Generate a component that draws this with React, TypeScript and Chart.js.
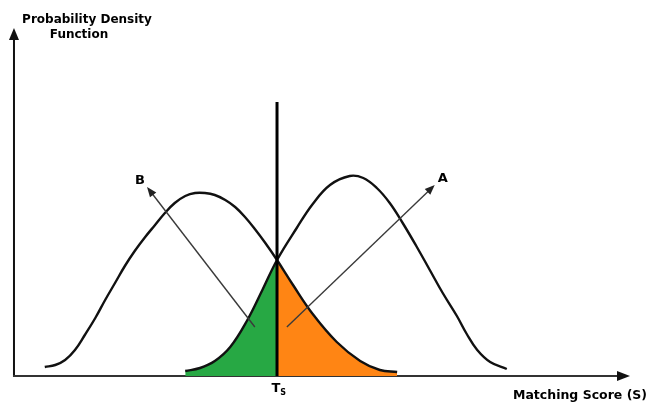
import React, { useEffect, useRef } from "react";
import { Chart, registerables } from "chart.js";

Chart.register(...registerables);

// Distribution B (left curve): matching score vs. probability density
const curveBScore = [5.0, 6.7, 8.3, 9.9, 11.5, 13.2, 14.8, 16.4, 18.0, 19.6, 21.3, 22.9, 24.5, 26.1, 27.8, 29.4, 31.0, 32.6, 34.3, 35.9, 37.5, 39.1, 40.8, 42.7, 45.3, 48.5, 52.4, 56.2, 59.4, 62.2];
const curveBDensity = [0.045, 0.055, 0.08, 0.13, 0.205, 0.29, 0.38, 0.465, 0.55, 0.625, 0.695, 0.755, 0.815, 0.865, 0.9, 0.915, 0.915, 0.905, 0.88, 0.845, 0.795, 0.735, 0.665, 0.58, 0.455, 0.31, 0.17, 0.075, 0.03, 0.02];

// Distribution A (right curve)
const curveAScore = [27.8, 30.2, 32.6, 35.1, 37.8, 40.4, 42.7, 45.9, 48.5, 51.3, 54.5, 56.7, 58.9, 61.0, 63.1, 65.4, 67.5, 69.6, 71.9, 73.5, 75.2, 77.3, 80.0];
const curveADensity = [0.025, 0.04, 0.075, 0.145, 0.275, 0.435, 0.58, 0.74, 0.86, 0.955, 1.0, 0.99, 0.94, 0.865, 0.765, 0.645, 0.53, 0.415, 0.3, 0.21, 0.13, 0.07, 0.035];

// Decision threshold T_s and the height of its marker line
const thresholdScore = 42.7;
const thresholdTop = 1.37;

// Axis extents (arrow tips)
const scoreAxisEnd = 100;
const densityAxisTop = 1.74;

// Pointer arrows: [fromScore, fromDensity, toScore, toDensity]
const arrowB = [39.1, 0.245, 21.6, 0.945];
const arrowA = [44.3, 0.245, 68.3, 0.955];

const toPoints = (xs: number[], ys: number[]) => xs.map((x, i) => ({ x, y: ys[i] }));

const curveB = toPoints(curveBScore, curveBDensity);
const curveA = toPoints(curveAScore, curveADensity);
const greenRegion = curveA.filter((p) => p.x <= thresholdScore);
const orangeRegion = curveB.filter((p) => p.x >= thresholdScore);

const FONT_FAMILY = "'DejaVu Sans', 'Liberation Sans', Arial, sans-serif";
const CURVE_TENSION = 0.4;

function arrowHead(ctx: CanvasRenderingContext2D, x1: number, y1: number, x2: number, y2: number, len: number, half: number) {
  const ang = Math.atan2(y2 - y1, x2 - x1);
  ctx.beginPath();
  ctx.moveTo(x2, y2);
  ctx.lineTo(x2 - len * Math.cos(ang) + half * Math.sin(ang), y2 - len * Math.sin(ang) - half * Math.cos(ang));
  ctx.lineTo(x2 - len * Math.cos(ang) - half * Math.sin(ang), y2 - len * Math.sin(ang) + half * Math.cos(ang));
  ctx.closePath();
  ctx.fill();
}

const diagramDecor = {
  id: "diagramDecor",
  beforeDatasetsDraw(chart: any) {
    const { ctx, scales } = chart;
    const x = scales.x;
    const y = scales.y;
    const ox = x.getPixelForValue(0);
    const oy = y.getPixelForValue(0);
    ctx.save();
    // density axis
    ctx.strokeStyle = "#111";
    ctx.fillStyle = "#111";
    ctx.lineWidth = 2;
    const yTop = y.getPixelForValue(densityAxisTop);
    ctx.beginPath();
    ctx.moveTo(ox, oy + 1);
    ctx.lineTo(ox, yTop + 8);
    ctx.stroke();
    arrowHead(ctx, ox, oy, ox, yTop, 12, 5);
    // score axis
    ctx.strokeStyle = "#333";
    ctx.fillStyle = "#111";
    const xEnd = x.getPixelForValue(scoreAxisEnd);
    ctx.beginPath();
    ctx.moveTo(ox - 1, oy);
    ctx.lineTo(xEnd - 8, oy);
    ctx.stroke();
    arrowHead(ctx, ox, oy, xEnd, oy, 13, 5);
    ctx.restore();
  },
  afterDatasetsDraw(chart: any) {
    const { ctx, scales } = chart;
    const x = scales.x;
    const y = scales.y;
    ctx.save();
    ctx.strokeStyle = "#3a3a3a";
    ctx.fillStyle = "#222";
    ctx.lineWidth = 1.4;
    const tips: number[][] = [];
    for (const a of [arrowB, arrowA]) {
      const x1 = x.getPixelForValue(a[0]);
      const y1 = y.getPixelForValue(a[1]);
      const x2 = x.getPixelForValue(a[2]);
      const y2 = y.getPixelForValue(a[3]);
      const ang = Math.atan2(y2 - y1, x2 - x1);
      ctx.beginPath();
      ctx.moveTo(x1, y1);
      ctx.lineTo(x2 - 6 * Math.cos(ang), y2 - 6 * Math.sin(ang));
      ctx.stroke();
      arrowHead(ctx, x1, y1, x2, y2, 10, 4);
      tips.push([x2, y2]);
    }
    // arrow labels
    ctx.fillStyle = "#000";
    ctx.font = `bold 13px ${FONT_FAMILY}`;
    ctx.textAlign = "center";
    ctx.textBaseline = "middle";
    ctx.fillText("B", tips[0][0] - 7, tips[0][1] - 6);
    ctx.fillText("A", tips[1][0] + 8, tips[1][1] - 6);

    // axis titles
    ctx.font = `bold 12px ${FONT_FAMILY}`;
    ctx.fillText("Probability Density", 87, 20);
    ctx.fillText("Function", 79, 35);
    ctx.textAlign = "left";
    ctx.font = `bold 12.5px ${FONT_FAMILY}`;
    ctx.fillText("Matching Score (S)", 513, 396);

    // threshold label T_s
    const tx = x.getPixelForValue(thresholdScore);
    ctx.font = `bold 13px ${FONT_FAMILY}`;
    ctx.textAlign = "center";
    ctx.fillText("T", tx - 1, 389);
    ctx.font = `bold 8px ${FONT_FAMILY}`;
    ctx.fillText("S", tx + 6, 393);
    ctx.restore();
  },
};

export default function App() {
  const canvasRef = useRef<HTMLCanvasElement | null>(null);

  useEffect(() => {
    const canvas = canvasRef.current;
    if (!canvas) return;
    const chart = new Chart(canvas, {
      type: "line",
      data: {
        datasets: [
          {
            label: "T_s",
            data: [
              { x: thresholdScore, y: 0 },
              { x: thresholdScore, y: thresholdTop },
            ],
            borderColor: "#000",
            borderWidth: 3,
            pointRadius: 0,
            fill: false,
            order: 0,
          },
          {
            label: "B",
            data: curveB,
            borderColor: "#111",
            borderWidth: 2.4,
            pointRadius: 0,
            tension: CURVE_TENSION,
            fill: false,
            order: 1,
          },
          {
            label: "A",
            data: curveA,
            borderColor: "#111",
            borderWidth: 2.4,
            pointRadius: 0,
            tension: CURVE_TENSION,
            fill: false,
            order: 1,
          },
          {
            label: "A below T_s",
            data: greenRegion,
            borderWidth: 0,
            borderColor: "rgba(0,0,0,0)",
            backgroundColor: "#27a844",
            pointRadius: 0,
            tension: CURVE_TENSION,
            fill: "origin",
            order: 3,
          },
          {
            label: "B above T_s",
            data: orangeRegion,
            borderWidth: 0,
            borderColor: "rgba(0,0,0,0)",
            backgroundColor: "#ff8514",
            pointRadius: 0,
            tension: CURVE_TENSION,
            fill: "origin",
            order: 3,
          },
        ],
      },
      options: {
        responsive: false,
        animation: false,
        layout: { padding: 0 },
        plugins: {
          legend: { display: false },
          tooltip: { enabled: false },
          title: { display: false },
        },
        scales: {
          x: { type: "linear", min: -2.27, max: 102.76, display: false },
          y: { type: "linear", min: -0.135, max: 1.88, display: false },
        },
      },
      plugins: [diagramDecor],
    });
    return () => chart.destroy();
  }, []);

  return (
    <div style={{ position: "absolute", left: 0, top: 0, width: 647, height: 403, background: "#fff" }}>
      <canvas ref={canvasRef} width={647} height={403} />
    </div>
  );
}
